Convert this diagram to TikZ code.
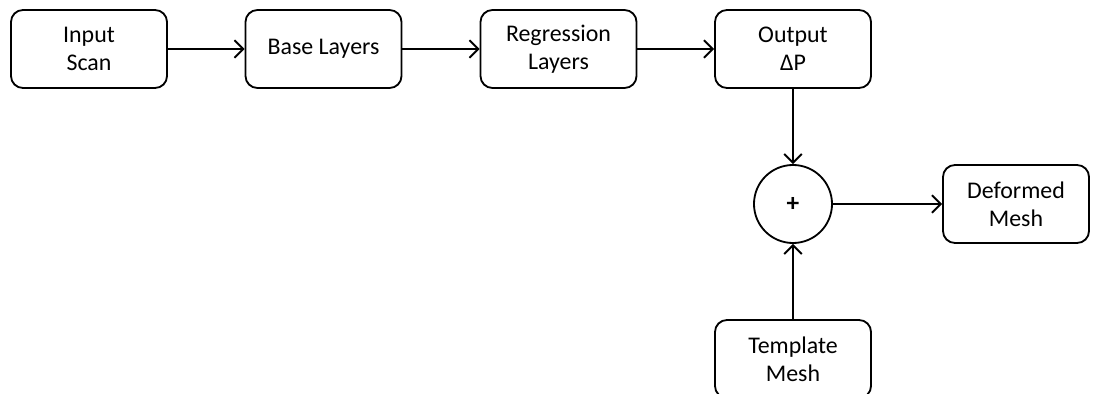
\documentclass[tikz,border=0pt]{standalone}
\usepackage{fontspec}
\setmainfont{Carlito}
\usetikzlibrary{arrows.meta}

\tikzset{
	blockbox/.style = {draw, rounded corners=0.3cm, line width=1.3pt, minimum width=3.9cm, minimum height=1.95cm, align=center, font=\fontsize{17}{20}\selectfont},
	sumnode/.style = {draw, circle, line width=1.3pt, minimum size=1.95cm, font=\fontsize{18}{20}\bfseries},
	flow/.style = {line width=1.3pt, -{Straight Barb[length=2.2mm,width=4.4mm]}}
}

\begin{document}
\begin{tikzpicture}[x=0.025cm, y=-0.025cm]
				\useasboundingbox (0,0) rectangle (1094,394);
				% top row
				\node[blockbox] (input) at (89,49) {Input\\Scan};
				\node[blockbox] (base) at (323.5,49) {Base Layers};
				\node[blockbox] (regr) at (558.5,49) {Regression\\Layers};
				\node[blockbox] (output) at (793,49) {Output\\ΔP};
				% sum and mesh
				\node[sumnode] (plus) at (793,204) {+};
				\node[blockbox, minimum width=3.65cm] (deformed) at (1016,204) {Deformed\\Mesh};
				\node[blockbox] (template) at (793,359) {Template\\Mesh};

				\draw[flow] (input) -- (base);
				\draw[flow] (base) -- (regr);
				\draw[flow] (regr) -- (output);
				\draw[flow] (output) -- (plus);
				\draw[flow] (template) -- (plus);
				\draw[flow] (plus) -- (deformed);
			\end{tikzpicture}
\end{document}
